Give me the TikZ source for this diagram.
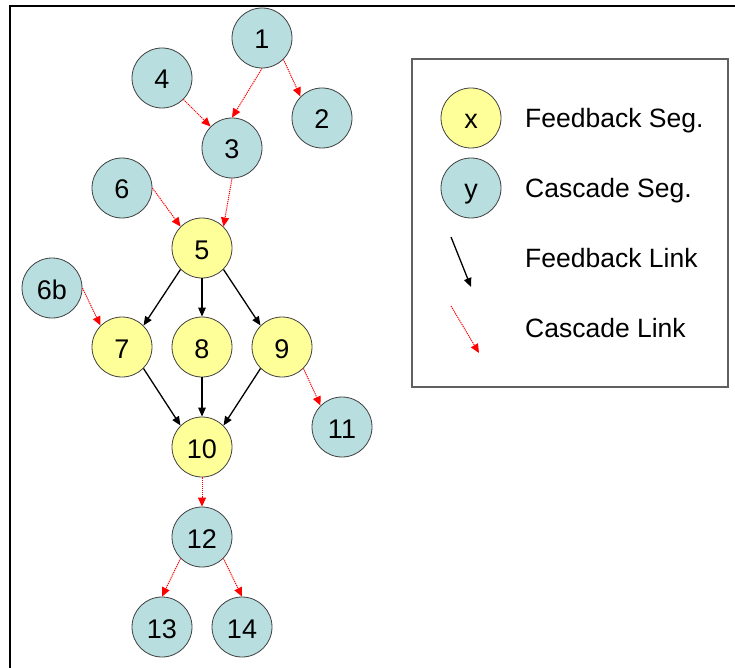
\documentclass[tikz,border=0pt]{standalone}
\usepackage{fontspec}
\setmainfont{Liberation Sans}
\usetikzlibrary{arrows.meta}
\definecolor{cascfill}{HTML}{B8DEE0}
\definecolor{fbfill}{HTML}{FFFF99}
\definecolor{ringgray}{HTML}{404040}
\definecolor{boxgray}{HTML}{606060}
\tikzset{
  seg/.style={circle, draw=ringgray, line width=0.8pt, minimum size=60pt,
    inner sep=0pt, font=\fontsize{27}{27}\selectfont,
    text height=22pt, text depth=0pt},
  fbseg/.style={seg, fill=fbfill},
  cseg/.style={seg, fill=cascfill},
  fblink/.style={-{Triangle[length=9pt,width=7.5pt]}, line width=1.3pt, black},
  clink/.style={-{Triangle[length=9pt,width=8pt]}, red, line width=1pt,
    dash pattern=on 1.2pt off 0.9pt},
  legtext/.style={anchor=base west, font=\fontsize{26.5}{26.5}\selectfont, inner sep=0pt}
}
\begin{document}
\begin{tikzpicture}[x=1pt,y=-1pt]
\useasboundingbox (0,0) rectangle (735,668);
% outer frame (top and left edges)
\draw[line width=2pt] (10,668) -- (10,6) -- (735,6);

% segments
\node[cseg]  (n1)  at (262,38)  {1};
\node[cseg]  (n2)  at (322,118) {2};
\node[cseg]  (n3)  at (232,148) {3};
\node[cseg]  (n4)  at (162,78)  {4};
\node[fbseg] (n5)  at (202,248) {5};
\node[cseg]  (n6)  at (122,188) {6};
\node[cseg]  (n6b) at (52,288)  {6b};
\node[fbseg] (n7)  at (122,347) {7};
\node[fbseg] (n8)  at (202,347) {8};
\node[fbseg] (n9)  at (282,347) {9};
\node[fbseg] (n10) at (202,447) {10};
\node[cseg]  (n11) at (342,427) {11};
\node[cseg]  (n12) at (202,537) {12};
\node[cseg]  (n13) at (162,627) {13};
\node[cseg]  (n14) at (242,627) {14};

% cascade links
\draw[clink] (n1.south) -- (n3.north);
\draw[clink] (n1.south east) -- (n2.north west);
\draw[clink] (n4.south east) -- (n3.north west);
\draw[clink] (n3.south) -- (n5.north east);
\draw[clink] (n6.east) -- (n5.north west);
\draw[clink] (n6b.east) -- (n7.north west);
\draw[clink] (n9.south east) -- (n11.north west);
\draw[clink] (n10.south) -- (n12.north);
\draw[clink] (n12.south west) -- (n13.north);
\draw[clink] (n12.south east) -- (n14.north);

% feedback links
\draw[fblink] (n5.south west) -- (n7.north east);
\draw[fblink] (n5.south) -- (n8.north);
\draw[fblink] (n5.south east) -- (n9.north west);
\draw[fblink] (n7.south east) -- (n10.north west);
\draw[fblink] (n8.south) -- (n10.north);
\draw[fblink] (n9.south west) -- (n10.north east);

% legend
\draw[draw=boxgray, line width=1.2pt] (412,59) rectangle (728,387);
\node[fbseg] (lx) at (471,118) {x};
\node[cseg]  (ly) at (471,188) {y};
\coordinate (fa) at (451,237);
\coordinate (fb) at (471,287);
\coordinate (ca) at (451,306);
\coordinate (cb) at (479,353);
\draw[fblink] (fa) -- (fb);
\draw[clink] (ca) -- (cb);
\node[legtext] (t1) at (525,128) {Feedback Seg.};
\node[legtext] (t2) at (525,197) {Cascade Seg.};
\node[legtext] (t3) at (525,267) {Feedback Link};
\node[legtext] (t4) at (525,337) {Cascade Link};
\end{tikzpicture}
\end{document}
